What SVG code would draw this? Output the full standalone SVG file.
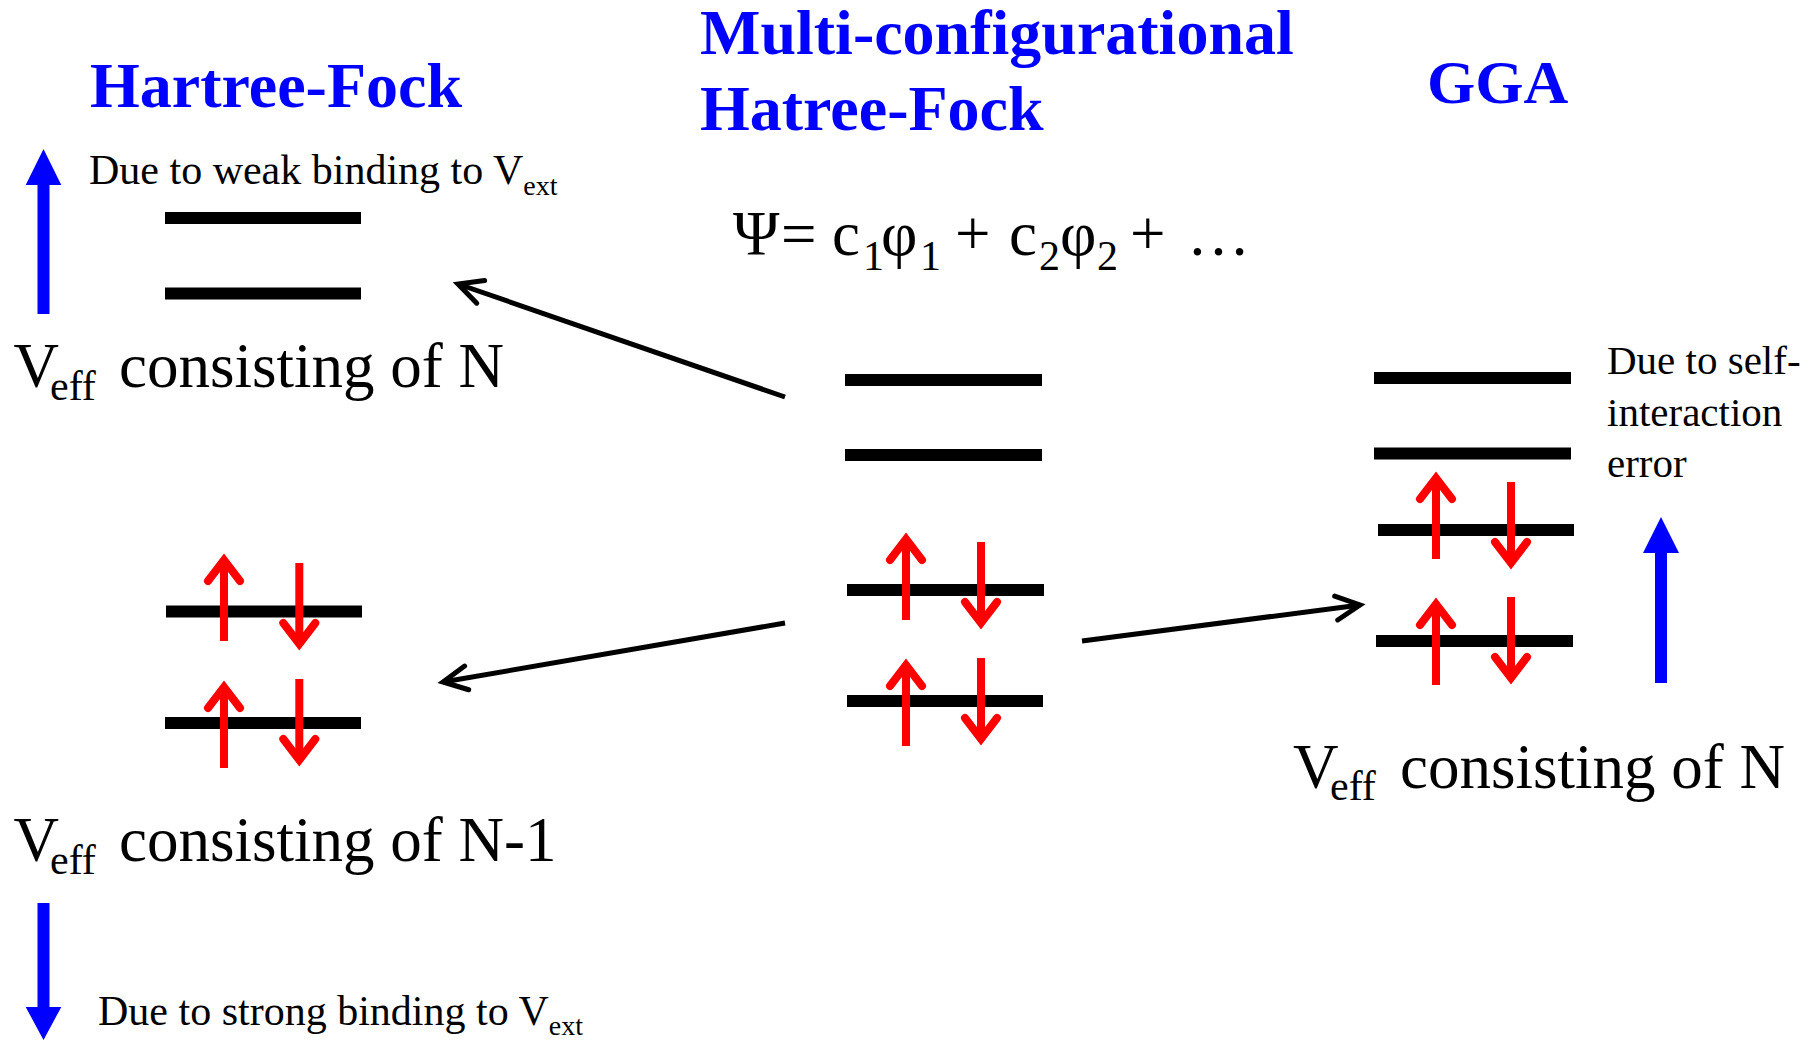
<svg xmlns="http://www.w3.org/2000/svg" xmlns:xlink="http://www.w3.org/1999/xlink" width="1820" height="1041" viewBox="0 0 1820 1041">
<defs>
<style>
text{font-family:"Liberation Serif","Times New Roman",serif;fill:#000}
.title{font-weight:bold;font-size:64px;fill:#0000FF}
.big{font-size:63px}
.sub{font-size:42px}
.note{font-size:42px}
.nsub{font-size:28px}
.lvl{stroke:#000;stroke-width:12;stroke-linecap:butt}
.blue{fill:#0000FF}
.conn{stroke:#000;stroke-width:5;fill:none;marker-end:url(#chev)}
</style>
<marker id="chev" markerUnits="userSpaceOnUse" viewBox="-30 -16 36 32" markerWidth="36" markerHeight="32" refX="0" refY="0" orient="auto" overflow="visible">
<path d="M-24,-12 L0,0 L-24,12" fill="none" stroke="#000" stroke-width="5" stroke-linecap="round" stroke-linejoin="miter"/>
</marker>
<g id="spin">
<line x1="0" y1="8" x2="0" y2="89" stroke="#FF0000" stroke-width="8" stroke-linecap="butt"/>
<polyline points="-16,29 0,8 16,29" fill="none" stroke="#FF0000" stroke-width="8" stroke-linecap="round" stroke-linejoin="miter"/>
</g>
</defs>
<rect width="1820" height="1041" fill="#fff"/>

<g id="hartree-fock">
<text class="title" x="90" y="107">Hartree-Fock</text>
<polygon class="blue" points="37.5,314 49.5,314 49.5,185 61.3,185 43.5,149 25.7,185 37.5,185"/>
<text class="note" x="89" y="184">Due to weak binding to V<tspan class="nsub" dy="11">ext</tspan></text>
<line class="lvl" x1="165" y1="218" x2="361" y2="218"/>
<line class="lvl" x1="165" y1="293.5" x2="361" y2="293.5"/>
<text class="big" y="387"><tspan x="13.5">V</tspan><tspan class="sub" x="50" y="400">eff</tspan><tspan x="119" y="387">consisting of N</tspan></text>
<line class="lvl" x1="166" y1="611.5" x2="362" y2="611.5"/>
<line class="lvl" x1="165" y1="723" x2="361" y2="723"/>
<use xlink:href="#spin" transform="translate(224,552)"/>
<use xlink:href="#spin" transform="translate(299.3,652) scale(1,-1)"/>
<use xlink:href="#spin" transform="translate(224,679)"/>
<use xlink:href="#spin" transform="translate(299.3,768) scale(1,-1)"/>
<text class="big" y="861"><tspan x="13.5">V</tspan><tspan class="sub" x="50" y="874">eff</tspan><tspan x="119" y="861">consisting of N-1</tspan></text>
<polygon class="blue" points="37.5,903 49.5,903 49.5,1007 61.3,1007 43.5,1040 25.7,1007 37.5,1007"/>
<text class="note" x="98" y="1025">Due to strong binding to V<tspan class="nsub" dy="10">ext</tspan></text>
</g>

<g id="mchf">
<text class="title" x="700" y="54">Multi-configurational</text>
<text class="title" x="700" y="130">Hatree-Fock</text>
<text class="big" y="255"><tspan x="733">Ψ</tspan><tspan x="781">=</tspan><tspan x="832">c</tspan><tspan class="sub" x="863" y="270">1</tspan><tspan x="881" y="255">φ</tspan><tspan class="sub" x="920" y="270">1</tspan><tspan x="955" y="255">+</tspan><tspan x="1009">c</tspan><tspan class="sub" x="1039" y="270">2</tspan><tspan x="1060" y="255">φ</tspan><tspan class="sub" x="1097" y="270">2</tspan><tspan x="1130" y="255">+</tspan><tspan x="1187">…</tspan></text>
<line class="lvl" x1="845" y1="380" x2="1042" y2="380"/>
<line class="lvl" x1="845" y1="455" x2="1042" y2="455"/>
<line class="lvl" x1="847" y1="590" x2="1044" y2="590"/>
<line class="lvl" x1="847" y1="701" x2="1043" y2="701"/>
<use xlink:href="#spin" transform="translate(906,531)"/>
<use xlink:href="#spin" transform="translate(981,631) scale(1,-1)"/>
<use xlink:href="#spin" transform="translate(906,657)"/>
<use xlink:href="#spin" transform="translate(981,747) scale(1,-1)"/>
</g>

<g id="gga">
<text class="title" x="1427" y="103" style="font-size:62px">GGA</text>
<line class="lvl" x1="1374" y1="378" x2="1571" y2="378"/>
<line class="lvl" x1="1374" y1="453.5" x2="1571" y2="453.5"/>
<line class="lvl" x1="1378" y1="530" x2="1574" y2="530"/>
<line class="lvl" x1="1376" y1="641" x2="1573" y2="641"/>
<use xlink:href="#spin" transform="translate(1436,470)"/>
<use xlink:href="#spin" transform="translate(1511,571) scale(1,-1)"/>
<use xlink:href="#spin" transform="translate(1436,596)"/>
<use xlink:href="#spin" transform="translate(1511,686) scale(1,-1)"/>
<text class="note" style="font-size:41px" x="1607" y="374">Due to self-</text>
<text class="note" style="font-size:41px" x="1607" y="426">interaction</text>
<text class="note" style="font-size:41px" x="1607" y="477">error</text>
<polygon class="blue" points="1655,683 1667,683 1667,553 1679,553 1661,517 1643,553 1655,553"/>
<text class="big" y="788"><tspan x="1293">V</tspan><tspan class="sub" x="1330" y="800">eff</tspan><tspan x="1400" y="788">consisting of N</tspan></text>
</g>

<g id="connectors">
<line class="conn" x1="785" y1="397" x2="458" y2="284"/>
<line class="conn" x1="785" y1="623" x2="443" y2="682"/>
<line class="conn" x1="1082" y1="641" x2="1360" y2="605"/>
</g>
</svg>
